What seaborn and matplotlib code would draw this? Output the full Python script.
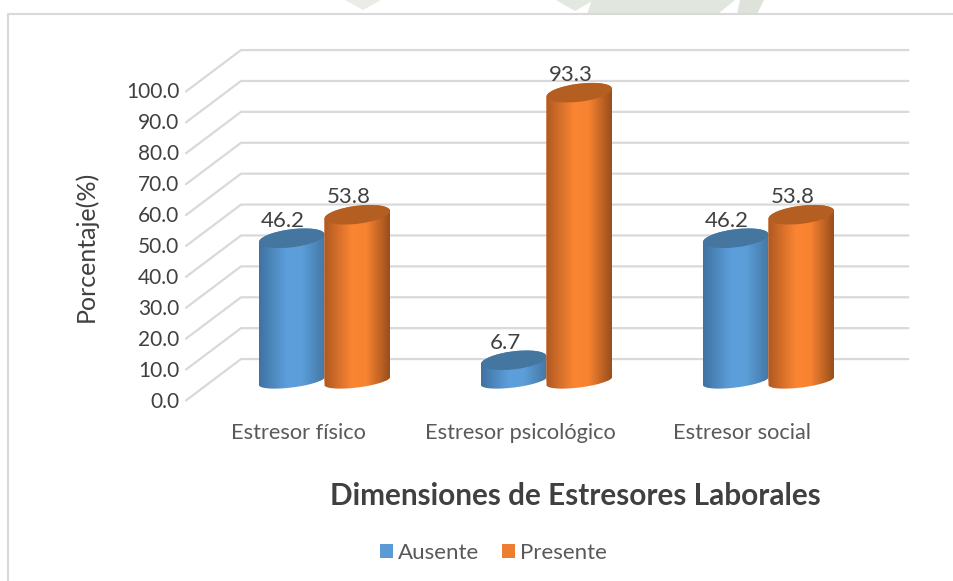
import numpy as np
import pandas as pd
import matplotlib
matplotlib.use('Agg')
import matplotlib.pyplot as plt
import matplotlib.transforms as mtrans
from matplotlib.lines import Line2D
from matplotlib.patches import Ellipse, Polygon
from matplotlib.path import Path
import seaborn as sns

categories = ['Estresor físico', 'Estresor psicológico', 'Estresor social']
ausente = [46.2, 6.7, 46.2]
presente = [53.8, 93.3, 53.8]
series_names = ['Ausente', 'Presente']
y_ticks = [0, 10, 20, 30, 40, 50, 60, 70, 80, 90, 100]

W, H = 954, 581
GRID = '#d9d9d9'
TEXT = '#404040'
LABEL = '#595959'
TILT = np.radians(7)
MINOR = 9.0
MINOR_BASE = 6.5

sns.set_theme(style='white')
plt.rcParams['font.family'] = ['Lato', 'DejaVu Sans']

df = pd.DataFrame({
    'categoria': categories * 2,
    'serie': [series_names[0]] * 3 + [series_names[1]] * 3,
    'valor': ausente + presente,
})

fig = plt.figure(figsize=(W / 100, H / 100), dpi=100, facecolor='white')
# axes box: x from 213.5 to 879.5 px, y = 0 at 381 px and y = 100 at 72 px
ax = fig.add_axes([213.5 / W, 1 - 381 / H, 666 / W, 309 / H])
ax.patch.set_visible(False)

sns.barplot(
    data=df, x='categoria', y='valor', hue='serie', ax=ax, width=0.59, gap=0,
    palette=['#5b9bd5', '#ed7d31'], saturation=1, legend=True, linewidth=0,
)
ax.set_xlim(-0.5, 2.5)
ax.set_ylim(0, 100)
sns.despine(ax=ax, left=True, bottom=True)


def fig_px(x, y):
    return x / W, 1 - y / H


def shift(px_x, px_y):
    return mtrans.Affine2D().translate(px_x, px_y)


# faint scan of the page behind the chart, above the frame
for pts, col in [
    ([(345, 0), (381, 0), (363, 10)], '#e9ede6'),
    ([(556, 0), (594, 0), (575, 11)], '#e3e8e0'),
    ([(592, 0), (735, 0), (718, 14), (587, 14)], '#e1e6de'),
    ([(740, 0), (764, 0), (757, 14), (737, 14)], '#dde2da'),
]:
    fig.add_artist(Polygon([fig_px(*p) for p in pts], closed=True, fc=col, ec='none',
                           transform=fig.transFigure))

# chart frame
fig.add_artist(Line2D([8 / W, 8 / W, 1], [0, 1 - 14 / H, 1 - 14 / H], color=GRID, lw=1.5,
                      transform=fig.transFigure))

# floor diagonal + back wall line for each gridline
for t in y_ticks:
    ax.plot([-0.624, -0.376, 2.63], [t - 6.3, t + 7.1, t + 7.1], color=GRID, lw=1.6,
            clip_on=False, zorder=1, solid_joinstyle='miter')

ramps = [
    [(0.25, 0.45, 0.63), (0.36, 0.62, 0.86), (0.36, 0.62, 0.85), (0.27, 0.47, 0.65)],
    [(0.69, 0.35, 0.13), (0.98, 0.52, 0.20), (0.97, 0.51, 0.19), (0.60, 0.31, 0.11)],
]
ramp_pos = [0, 0.42, 0.65, 1]
tops = ['#44769f', '#b55e22']

for s, container in enumerate(ax.containers):
    z = 3 + s
    shade = np.array([[np.interp(u, ramp_pos, [c[i] for c in ramps[s]]) for i in range(3)]
                      for u in np.linspace(0, 1, 64)])[None, :, :]
    for bar in container:
        x0, w, v = bar.get_x(), bar.get_width(), bar.get_height()
        (px0, py0), (px1, py1) = ax.transData.transform([(x0, 0), (x0 + w, v)])
        a = (px1 - px0) / 2
        cx = (px0 + px1) / 2
        up = np.linspace(0, np.pi, 50)
        down = np.linspace(np.pi, 2 * np.pi, 50)
        top = np.c_[cx + a * np.cos(up), py1 + a * np.cos(up) * np.sin(TILT) + MINOR * np.sin(up)]
        low = np.c_[cx + a * np.cos(down), py0 + a * np.cos(down) * np.sin(TILT) + MINOR_BASE * np.sin(down)]
        body = Path(np.r_[top, low, top[:1]], closed=True)

        bar.set_zorder(z)
        bar.set_clip_box(fig.bbox)
        bar.set_clip_path(body, mtrans.IdentityTransform())
        im = ax.imshow(shade, extent=(x0, x0 + w, -10, v + 10), aspect='auto',
                       interpolation='bilinear', zorder=z)
        im.set_clip_box(fig.bbox)
        im.set_clip_path(body, mtrans.IdentityTransform())
        ax.add_patch(Ellipse((cx, py1), 2 * a, 2 * MINOR, angle=np.degrees(TILT),
                             fc=tops[s], ec='none', zorder=z,
                             transform=mtrans.IdentityTransform(), clip_on=False))
        ax.annotate(f'{v:.1f}', (x0 + w / 2, v), xytext=(-8.5 * 0.72, 17.5 * 0.72),
                    textcoords='offset points', ha='center', va='center',
                    fontsize=16, color=TEXT, zorder=10, annotation_clip=False)

ax.set_xlim(-0.5, 2.5)
ax.set_ylim(0, 100)

# tick labels sit on the floor edge, in front of the wall
ax.set_yticks(y_ticks)
ax.set_yticklabels([f'{t:.1f}' for t in y_ticks])
ax.tick_params(axis='y', length=0, pad=24.5, labelsize=15, labelcolor=TEXT)
ax.tick_params(axis='x', length=0, pad=30.3, labelsize=15.7, labelcolor=LABEL)
for lab in ax.get_yticklabels():
    lab.set_transform(lab.get_transform() + shift(0, -18.5))
for lab in ax.get_xticklabels():
    lab.set_transform(lab.get_transform() + shift(-26.5, 0))

ax.set_ylabel('Porcentaje(%)', fontsize=18, color=TEXT)
ax.yaxis.set_label_coords(*fig_px(98, 246), transform=fig.transFigure)
ax.set_xlabel('Dimensiones de Estresores Laborales', fontsize=21.4, fontweight='bold', color=TEXT)
ax.xaxis.set_label_coords(*fig_px(575, 482), transform=fig.transFigure)

handles, labels = ax.get_legend_handles_labels()
ax.legend(
    handles, labels, ncol=2, frameon=False, loc='center',
    bbox_to_anchor=fig_px(493.5, 553), bbox_transform=fig.transFigure,
    fontsize=16, labelcolor=LABEL, handlelength=0.59, handleheight=0.59,
    handletextpad=0.25, columnspacing=1.0, borderpad=0,
)

fig.savefig('out.png', dpi=100, facecolor='white')
